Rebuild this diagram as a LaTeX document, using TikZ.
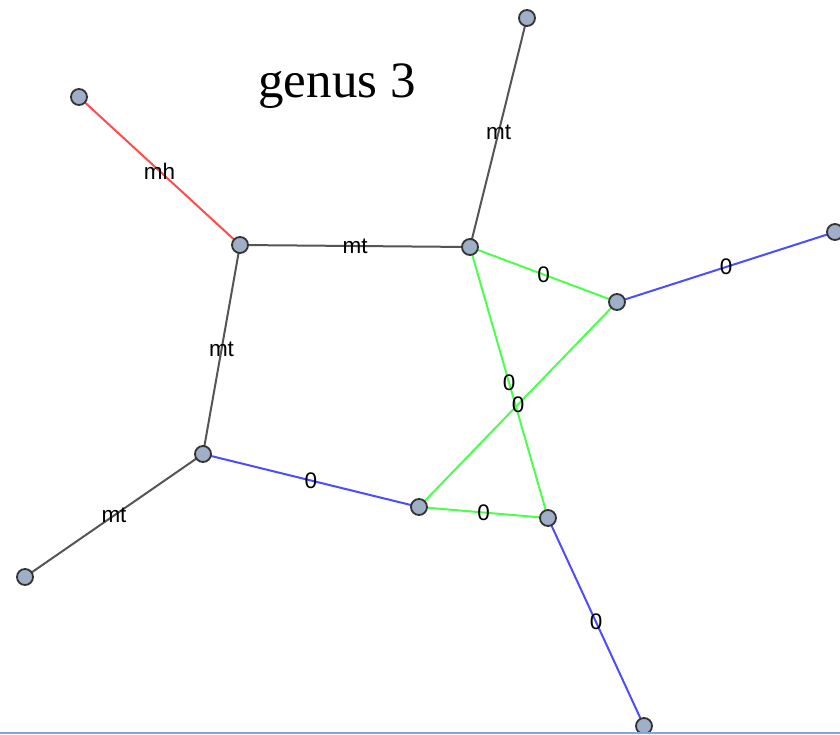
\documentclass[tikz,border=0pt]{standalone}
\usepackage{fontspec}
\setmainfont{Liberation Serif}
\newfontfamily\labfont{Liberation Sans}
\definecolor{nodefill}{HTML}{A0AFC8}
\definecolor{nodeedge}{HTML}{333333}
\definecolor{egray}{HTML}{555555}
\definecolor{ered}{HTML}{FF4D4D}
\definecolor{egreen}{HTML}{4DFF4D}
\definecolor{eblue}{HTML}{4D4DFF}
\definecolor{bottomblue}{HTML}{7FA8D8}
\tikzset{
  vert/.style={circle, fill=nodefill, draw=nodeedge, line width=1.8pt, minimum size=16pt, inner sep=0pt},
  edgelab/.style={midway, font=\labfont\fontsize{22.5}{22.5}\selectfont, inner sep=0pt, text=black},
  gedge/.style={draw=egray, line width=2pt},
  redge/.style={draw=ered, line width=2pt},
  grnedge/.style={draw=egreen, line width=2pt},
  bedge/.style={draw=eblue, line width=2pt}
}
\begin{document}
\begin{tikzpicture}[x=1pt,y=-1pt]
\useasboundingbox (0,0) rectangle (840,734);
\fill[white] (0,0) rectangle (840,734);
\begin{scope}
\clip (0,0) rectangle (840,733);
\coordinate (A) at (79,97);
\coordinate (B) at (240,245);
\coordinate (C) at (470,247);
\coordinate (D) at (527,18);
\coordinate (E) at (617,302);
\coordinate (F) at (835,232);
\coordinate (G) at (203,454);
\coordinate (H) at (25,577);
\coordinate (I) at (419,507);
\coordinate (J) at (548,518);
\coordinate (K) at (644,726);
\path[redge] (A) -- (B) node[edgelab] {mh};
\path[gedge] (B) -- (C) node[edgelab] {mt};
\path[gedge] (C) -- (D) node[edgelab] {mt};
\path[gedge] (B) -- (G) node[edgelab] {mt};
\path[gedge] (G) -- (H) node[edgelab] {mt};
\path[grnedge] (C) -- (E) node[edgelab] {0};
\path[bedge] (E) -- (F) node[edgelab] {0};
\path[grnedge] (C) -- (J) node[edgelab] {0};
\path[grnedge] (E) -- (I) node[edgelab] {0};
\path[bedge] (G) -- (I) node[edgelab] {0};
\path[grnedge] (I) -- (J) node[edgelab] {0};
\path[bedge] (J) -- (K) node[edgelab] {0};
\foreach \v in {A,B,C,D,E,F,G,H,I,J,K} {
  \node[vert] (n\v) at (\v) {};
}
\end{scope}
\node[anchor=base, font=\fontsize{51}{51}\selectfont, inner sep=0pt] (title) at (337,97) {genus 3};
\draw[draw=bottomblue, line width=2pt] (0,733) -- (840,733);
\end{tikzpicture}
\end{document}
